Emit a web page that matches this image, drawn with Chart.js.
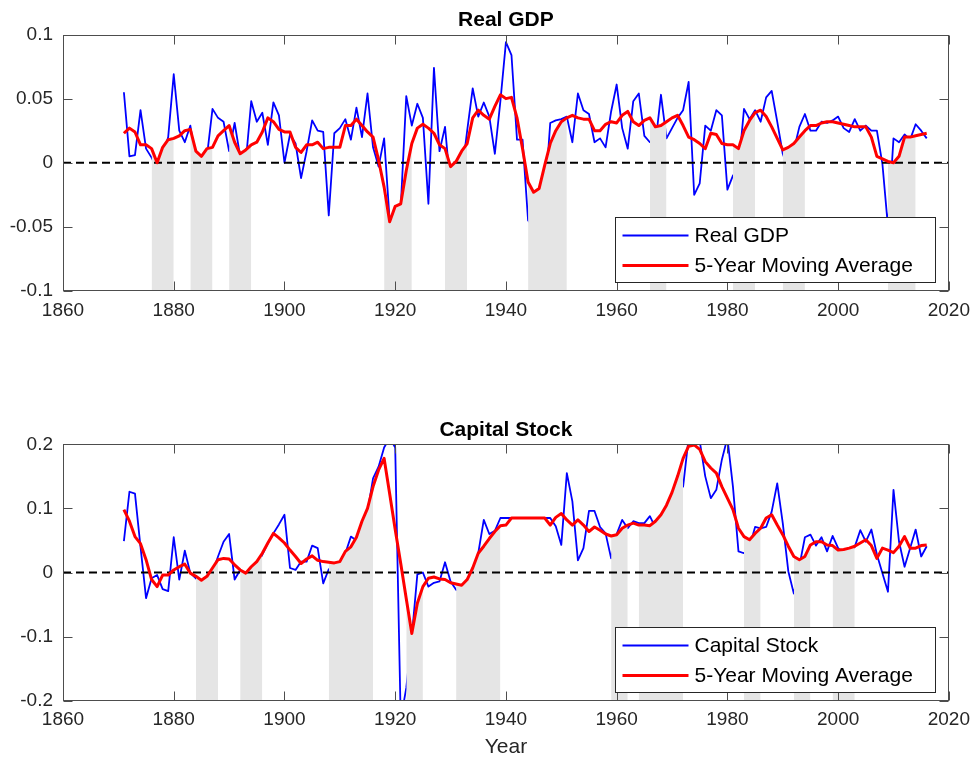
<!DOCTYPE html>
<html>
<head>
<meta charset="utf-8">
<title>Real GDP and Capital Stock</title>
<script src="https://cdn.jsdelivr.net/npm/chart.js@4.4.1/dist/chart.umd.min.js"></script>
<style>
  html, body { margin: 0; padding: 0; background: #fff; }
  .panel { position: absolute; left: 0; width: 978px; height: 381px; }
  #gdpPanel { top: 0; }
  #capPanel { top: 381px; }
</style>
</head>
<body>
<div class="panel" id="gdpPanel"><canvas id="gdpChart" width="978" height="381"></canvas></div>
<div class="panel" id="capPanel"><canvas id="capChart" width="978" height="381"></canvas></div>
<script>
/* --------------------------------------------
   Data (annual growth rates, 1871-2016)
-------------------------------------------- */
const gdpGrowth = [
  0.055, 0.005, 0.006, 0.041, 0.011, 0.004, -0.005, 0.005, 0.020, 0.069,
  0.025, 0.016, 0.029, 0.002, -0.002, 0.005, 0.042, 0.035, 0.032, 0.009,
  0.031, 0.005, 0.000, 0.048, 0.032, 0.039, 0.014, 0.047, 0.037, 0.000,
  0.022, 0.015, -0.012, 0.009, 0.033, 0.025, 0.024, -0.041, 0.023, 0.027,
  0.034, 0.018, 0.043, 0.020, 0.054, 0.012, -0.003, 0.019, -0.045, -0.040,
  -0.035, 0.052, 0.029, 0.046, 0.035, -0.032, 0.074, 0.009, 0.028, -0.020,
  -0.015, -0.010, 0.025, 0.058, 0.036, 0.047, 0.036, 0.007, 0.048, 0.094,
  0.084, 0.018, 0.018, -0.045, -0.050, -0.040, -0.030, 0.031, 0.033, 0.034,
  0.036, 0.016, 0.054, 0.041, 0.038, 0.016, 0.019, 0.012, 0.040, 0.061,
  0.027, 0.011, 0.048, 0.054, 0.021, 0.016, 0.015, 0.053, 0.019, 0.027,
  0.035, 0.041, 0.063, -0.025, -0.016, 0.029, 0.025, 0.041, 0.037, -0.021,
  -0.010, -0.005, 0.042, 0.034, 0.041, 0.032, 0.051, 0.056, 0.032, 0.007,
  -0.005, 0.010, 0.028, 0.038, 0.025, 0.025, 0.032, 0.031, 0.033, 0.036,
  0.027, 0.024, 0.034, 0.025, 0.029, 0.025, 0.025, -0.001, -0.050, 0.019,
  0.016, 0.022, 0.018, 0.030, 0.025, 0.019,
];

const gdpMovingAvg = [
  0.023, 0.027, 0.024, 0.014, 0.014, 0.011, 0.000, 0.012, 0.018, 0.019,
  0.021, 0.025, 0.026, 0.009, 0.005, 0.011, 0.012, 0.021, 0.025, 0.029,
  0.016, 0.007, 0.010, 0.014, 0.016, 0.024, 0.035, 0.032, 0.026, 0.024,
  0.024, 0.012, 0.008, 0.014, 0.014, 0.016, 0.011, 0.012, 0.012, 0.012,
  0.029, 0.029, 0.034, 0.029, 0.024, 0.020, 0.002, -0.019, -0.046, -0.034,
  -0.032, -0.006, 0.015, 0.027, 0.030, 0.027, 0.023, 0.014, 0.011, -0.003,
  0.001, 0.009, 0.015, 0.035, 0.041, 0.037, 0.034, 0.044, 0.053, 0.050,
  0.051, 0.035, 0.011, -0.015, -0.023, -0.020, -0.002, 0.015, 0.025, 0.032,
  0.035, 0.037, 0.035, 0.034, 0.034, 0.025, 0.025, 0.030, 0.032, 0.031,
  0.037, 0.040, 0.032, 0.029, 0.033, 0.035, 0.028, 0.029, 0.032, 0.035,
  0.037, 0.029, 0.020, 0.018, 0.015, 0.011, 0.023, 0.022, 0.015, 0.014,
  0.014, 0.011, 0.025, 0.033, 0.039, 0.041, 0.036, 0.028, 0.019, 0.010,
  0.012, 0.015, 0.020, 0.025, 0.029, 0.029, 0.031, 0.032, 0.032, 0.031,
  0.030, 0.029, 0.028, 0.028, 0.028, 0.020, 0.005, 0.003, 0.001, 0.000,
  0.005, 0.020, 0.020, 0.021, 0.022, 0.023,
];

const capGrowth = [
  0.049, 0.126, 0.123, 0.040, -0.040, -0.009, -0.004, -0.026, -0.029, 0.055,
  -0.011, 0.034, -0.001, -0.009, -0.020, -0.020, 0.000, 0.025, 0.048, 0.060,
  -0.011, 0.004, -0.010, 0.000, 0.010, 0.028, 0.046, 0.061, 0.075, 0.090,
  0.007, 0.004, 0.017, 0.017, 0.042, 0.038, -0.017, 0.005, 0.010, 0.015,
  0.030, 0.056, 0.050, 0.075, 0.095, 0.147, 0.165, 0.195, 0.210, 0.195,
  -0.230, -0.180, -0.100, -0.003, 0.000, -0.022, -0.016, -0.014, 0.016, -0.014,
  -0.027, -0.030, -0.020, 0.000, 0.030, 0.082, 0.060, 0.065, 0.085, 0.085,
  0.085, 0.085, 0.085, 0.085, 0.085, 0.085, 0.085, 0.085, 0.072, 0.043,
  0.155, 0.111, 0.019, 0.038, 0.096, 0.096, 0.071, 0.061, 0.022, 0.060,
  0.082, 0.069, 0.080, 0.077, 0.077, 0.088, 0.070, 0.085, 0.100, 0.120,
  0.150, 0.134, 0.210, 0.210, 0.205, 0.150, 0.116, 0.129, 0.176, 0.210,
  0.134, 0.033, 0.030, 0.040, 0.071, 0.069, 0.071, 0.095, 0.139, 0.077,
  0.002, -0.033, 0.010, 0.055, 0.059, 0.042, 0.055, 0.033, 0.057, 0.038,
  0.030, 0.030, 0.040, 0.066, 0.048, 0.067, 0.028, -0.001, -0.030, 0.129,
  0.048, 0.009, 0.038, 0.067, 0.025, 0.041,
];

const capMovingAvg = [
  0.098, 0.080, 0.056, 0.045, 0.020, -0.011, -0.022, -0.004, -0.004, 0.004,
  0.009, 0.013, -0.001, -0.006, -0.012, -0.006, 0.007, 0.020, 0.022, 0.021,
  0.012, 0.004, -0.001, 0.009, 0.017, 0.030, 0.046, 0.061, 0.054, 0.046,
  0.035, 0.025, 0.014, 0.021, 0.026, 0.019, 0.017, 0.016, 0.015, 0.017,
  0.033, 0.040, 0.055, 0.080, 0.100, 0.134, 0.160, 0.178, 0.123, 0.067,
  0.014, -0.041, -0.095, -0.048, -0.022, -0.009, -0.007, -0.010, -0.011, -0.016,
  -0.018, -0.020, -0.011, 0.007, 0.030, 0.041, 0.053, 0.064, 0.073, 0.074,
  0.085, 0.085, 0.085, 0.085, 0.085, 0.085, 0.085, 0.074, 0.086, 0.092,
  0.082, 0.074, 0.082, 0.074, 0.064, 0.071, 0.066, 0.060, 0.057, 0.059,
  0.069, 0.074, 0.077, 0.074, 0.074, 0.073, 0.080, 0.090, 0.105, 0.125,
  0.150, 0.178, 0.197, 0.199, 0.192, 0.173, 0.163, 0.155, 0.134, 0.116,
  0.098, 0.069, 0.056, 0.051, 0.061, 0.069, 0.085, 0.090, 0.074, 0.059,
  0.041, 0.025, 0.020, 0.025, 0.043, 0.048, 0.048, 0.043, 0.042, 0.035,
  0.036, 0.038, 0.041, 0.046, 0.051, 0.042, 0.022, 0.038, 0.035, 0.031,
  0.041, 0.056, 0.038, 0.038, 0.042, 0.043,
];

const FIRST_YEAR = 1871;
const years = gdpGrowth.map((_, i) => FIRST_YEAR + i);

// shaded periods [start, end]
const gdpBands = [
  [1876, 1880], [1883, 1887], [1890, 1894], [1918, 1923], [1929, 1933],
  [1944, 1951], [1966, 1969], [1981, 1985], [1990, 1994], [2009, 2014],
];
const capBands = [
  [1884, 1888], [1892, 1896], [1908, 1916], [1922, 1925], [1931, 1939],
  [1959, 1962], [1964, 1972], [1983, 1986], [1992, 1995], [1999, 2003],
];

const xTicks = { min: 1860, max: 2020, step: 20 };

/* --------------------------------------------
   Styles
-------------------------------------------- */
const FONT = '"Liberation Sans", Arial, Helvetica, sans-serif';
const AXIS_COLOR = "#262626";
const FRAME_COLOR = "#4d4d4d";
const BAND_COLOR = "#e5e5e5";
const TICK_LEN = 9;

/* --------------------------------------------
   Utils
-------------------------------------------- */
const toPoints = (values) => values.map((y, i) => ({ x: years[i], y }));

const bandPoints = (ma, [from, to]) =>
  years
    .map((x, i) => ({ x, y: ma[i] }))
    .filter((p) => p.x >= from && p.x <= to);

const formatTick = (v) => {
  const r = Math.round(v * 100) / 100;
  return r === 0 ? "0" : String(r);
};

/* --------------------------------------------
   Frame, inward ticks, title and boxed legend
-------------------------------------------- */
const axesFrame = {
  id: "axesFrame",
  afterDraw(chart, args, opts) {
    const { ctx, chartArea, scales } = chart;
    const left = Math.round(chartArea.left) + 0.5;
    const right = Math.round(chartArea.right) - 0.5;
    const top = Math.round(chartArea.top) + 0.5;
    const bottom = Math.round(chartArea.bottom) - 0.5;

    ctx.save();
    ctx.strokeStyle = FRAME_COLOR;
    ctx.lineWidth = 1;
    ctx.beginPath();
    scales.x.ticks.forEach((t) => {
      const px = Math.round(scales.x.getPixelForValue(t.value)) + 0.5;
      ctx.moveTo(px, bottom);
      ctx.lineTo(px, bottom - TICK_LEN);
      ctx.moveTo(px, top);
      ctx.lineTo(px, top + TICK_LEN);
    });
    scales.y.ticks.forEach((t) => {
      const py = Math.round(scales.y.getPixelForValue(t.value)) + 0.5;
      ctx.moveTo(left, py);
      ctx.lineTo(left + TICK_LEN, py);
      ctx.moveTo(right, py);
      ctx.lineTo(right - TICK_LEN, py);
    });
    ctx.stroke();
    ctx.strokeRect(left, top, right - left, bottom - top);

    // title over the plot area
    ctx.fillStyle = "#000";
    ctx.font = `bold 21px ${FONT}`;
    ctx.textAlign = "center";
    ctx.textBaseline = "middle";
    ctx.fillText(opts.title, (chartArea.left + chartArea.right) / 2, chartArea.top - 14);

    // legend in the lower right corner
    const w = 320;
    const h = 65;
    const bx = Math.round(chartArea.right - 13.5 - w) + 0.5;
    const by = Math.round(chartArea.bottom - 9 - h) + 0.5;
    ctx.fillStyle = "#fff";
    ctx.fillRect(bx, by, w, h);
    ctx.strokeStyle = AXIS_COLOR;
    ctx.strokeRect(bx, by, w, h);

    ctx.font = `21px ${FONT}`;
    ctx.textAlign = "left";
    opts.items.forEach((item, i) => {
      const ly = by + 18 + i * 30;
      ctx.strokeStyle = item.color;
      ctx.lineWidth = item.width;
      ctx.beginPath();
      ctx.moveTo(bx + 7, ly);
      ctx.lineTo(bx + 73, ly);
      ctx.stroke();
      ctx.fillStyle = "#000";
      ctx.fillText(item.label, bx + 79, ly + 1);
    });
    ctx.restore();
  },
};

/* --------------------------------------------
   Chart builder
-------------------------------------------- */
const renderPanel = (canvasId, cfg) => {
  const bands = cfg.bands.map((b) => ({
    data: bandPoints(cfg.ma, b),
    borderColor: "rgba(0,0,0,0)",
    borderWidth: 0,
    backgroundColor: BAND_COLOR,
    fill: "start",
    order: 2,
  }));

  return new Chart(document.getElementById(canvasId), {
    type: "line",
    data: {
      datasets: [
        {
          label: cfg.label,
          data: toPoints(cfg.series),
          borderColor: "#0000ff",
          borderWidth: 1.8,
          order: 3,
        },
        ...bands,
        {
          label: "zero",
          data: [
            { x: xTicks.min, y: 0 },
            { x: xTicks.max, y: 0 },
          ],
          borderColor: "#000",
          borderWidth: 1.8,
          borderDash: [8, 5],
          order: 1,
        },
        {
          label: "5-Year Moving Average",
          data: toPoints(cfg.ma),
          borderColor: "#ff0000",
          borderWidth: 3,
          order: 0,
        },
      ],
    },
    options: {
      responsive: false,
      animation: false,
      events: [],
      layout: { padding: { top: cfg.padTop, right: 24, left: 0, bottom: 0 } },
      datasets: { line: { clip: 0, pointRadius: 0, tension: 0, borderJoinStyle: "round" } },
      plugins: {
        legend: { display: false },
        tooltip: { enabled: false },
        title: { display: false },
        axesFrame: {
          title: cfg.title,
          items: [
            { label: cfg.label, color: "#0000ff", width: 1.8 },
            { label: "5-Year Moving Average", color: "#ff0000", width: 3 },
          ],
        },
      },
      scales: {
        x: {
          type: "linear",
          min: xTicks.min,
          max: xTicks.max,
          grid: { display: false, drawTicks: false },
          border: { display: false },
          ticks: {
            stepSize: xTicks.step,
            padding: 8,
            autoSkip: false,
            maxRotation: 0,
            color: AXIS_COLOR,
            font: { family: FONT, size: 19 },
            callback: (v) => String(v),
          },
          title: {
            display: !!cfg.xTitle,
            text: cfg.xTitle || "",
            color: AXIS_COLOR,
            font: { family: FONT, size: 21 },
            padding: { top: 0, bottom: 2 },
          },
          afterFit: (s) => {
            s.height = cfg.xHeight;
          },
        },
        y: {
          min: cfg.yMin,
          max: cfg.yMax,
          grid: { display: false, drawTicks: false },
          border: { display: false },
          ticks: {
            stepSize: cfg.yStep,
            padding: 10,
            color: AXIS_COLOR,
            font: { family: FONT, size: 19 },
            callback: formatTick,
          },
          afterFit: (s) => {
            s.width = 63;
          },
        },
      },
    },
    plugins: [axesFrame],
  });
};

/* --------------------------------------------
   Boot
-------------------------------------------- */
renderPanel("gdpChart", {
  title: "Real GDP",
  label: "Real GDP",
  series: gdpGrowth,
  ma: gdpMovingAvg,
  bands: gdpBands,
  yMin: -0.1,
  yMax: 0.1,
  yStep: 0.05,
  padTop: 34.5,
  xHeight: 90,
});

renderPanel("capChart", {
  title: "Capital Stock",
  label: "Capital Stock",
  series: capGrowth,
  ma: capMovingAvg,
  bands: capBands,
  yMin: -0.2,
  yMax: 0.2,
  yStep: 0.1,
  padTop: 63.3,
  xHeight: 61.3,
  xTitle: "Year",
});
</script>
</body>
</html>
